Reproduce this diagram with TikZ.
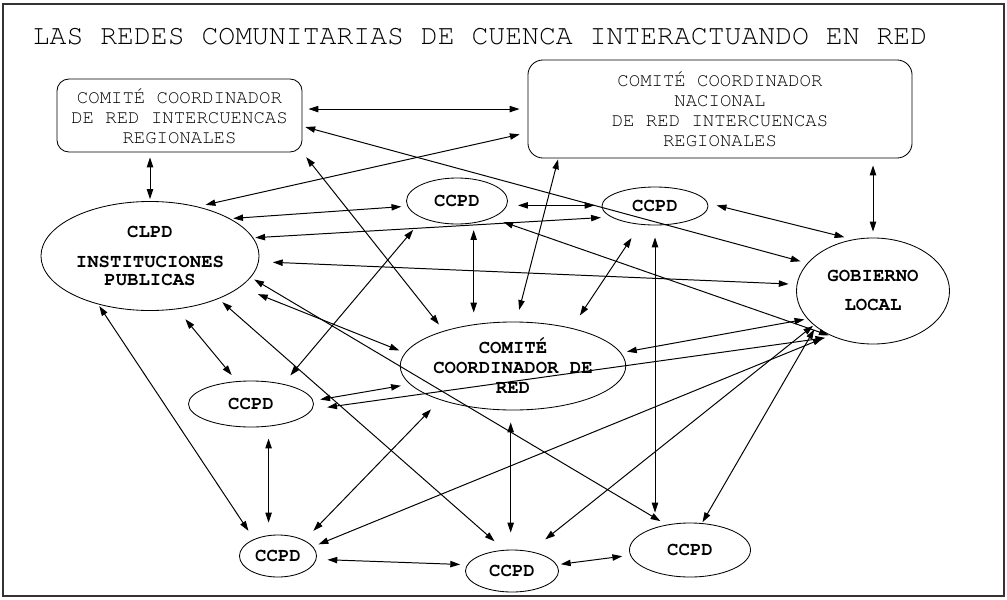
\documentclass[tikz,border=0pt]{standalone}
\usepackage[T1]{fontenc}
\usepackage{courier}
\usetikzlibrary{arrows.meta,shapes.geometric}

\begin{document}
\begin{tikzpicture}[
    x=0.025cm, y=-0.025cm,
    box/.style={draw, line width=0.6pt, rectangle, rounded corners=0.3cm, inner sep=0pt, align=center,
        font=\ttfamily\fontsize{13.5pt}{14.2pt}\selectfont},
    oval/.style={draw, line width=0.6pt, ellipse, inner sep=0pt, align=center,
        font=\ttfamily\bfseries\fontsize{13.5pt}{14.2pt}\selectfont},
    link/.style={{Triangle[length=7pt,width=4.5pt]}-{Triangle[length=7pt,width=4.5pt]},
        line width=0.7pt, shorten <=2pt, shorten >=2pt},
    gap/.style 2 args={shorten <=#1*0.025cm, shorten >=#2*0.025cm}
]

\useasboundingbox (0,0) rectangle (1007,599);
\draw[line width=1.4pt, black!80] (3,4) rectangle (1004,596);

\node[font=\ttfamily\fontsize{20pt}{24pt}\selectfont] (title) at (480,36)
    {LAS REDES COMUNITARIAS DE CUENCA INTERACTUANDO EN RED};

% boxes
\node[box, minimum width=6.125cm, minimum height=1.825cm] (boxRed) at (179.5,115.5)
    {COMIT\'E COORDINADOR\\DE RED INTERCUENCAS\\REGIONALES};
\node[box, rounded corners=0.375cm, minimum width=9.6cm, minimum height=2.45cm] (boxNac) at (720,109)
    {COMIT\'E COORDINADOR\\NACIONAL\\DE RED INTERCUENCAS\\REGIONALES};

% ovals
\node[oval, minimum width=5.45cm, minimum height=2.725cm] (clpd) at (150,256)
    {CLPD\\[7.1pt]INSTITUCIONES\\[-1.4pt]PUBLICAS};
\node[oval, minimum width=2.525cm, minimum height=1.15cm] (ccpdA) at (457,201) {CCPD};
\node[oval, minimum width=2.65cm, minimum height=0.95cm] (ccpdB) at (655,206) {CCPD};
\node[oval, minimum width=5.5cm, minimum height=2.2cm] (comite) at (513,366)
    {COMIT\'E\\COORDINADOR DE\\RED};
\node[oval, minimum width=3.825cm, minimum height=2.65cm] (gob) at (873,291)
    {GOBIERNO\\[6.4pt]LOCAL};
\node[oval, minimum width=3.125cm, minimum height=1.15cm] (ccpdC) at (251,404) {CCPD};
\node[oval, minimum width=1.925cm, minimum height=1.05cm] (ccpdD) at (278,556) {CCPD};
\node[oval, minimum width=2.325cm, minimum height=1.05cm] (ccpdE) at (512,571) {CCPD};
\node[oval, minimum width=3.025cm, minimum height=1.35cm] (ccpdF) at (690,550) {CCPD};

% from the boxes
\draw[link, gap={6}{8}] (boxRed.3) -- (boxRed.3 -| boxNac.west);
\draw[link, gap={3}{7}] (boxRed.-5) -- (gob.157);
\draw[link, gap={5}{2}] (boxRed.south -| clpd.north) -- (clpd.north);
\draw[link, gap={8}{8}] (boxNac.187) -- (clpd.46);
\draw[link, gap={6}{8}] (boxRed.south east) -- (comite.153);
\draw[link, gap={1}{12}] (boxNac.197) -- (comite.86);
\draw[link, gap={7}{6}] (boxNac.south -| gob.north) -- (gob.north);

% from CLPD
\draw[link, gap={3}{6}] (clpd.25) -- (ccpdA.186);
\draw[link, gap={2}{10}] (clpd.10) -- (ccpdB.194);
\draw[link, gap={14}{8}] (clpd.-3) -- (gob.175);
\draw[link, gap={19}{6}] (clpd.-19) -- (comite.173);
\draw[link, gap={4}{7}] (clpd.-12) -- (ccpdF.133);
\draw[link, gap={5}{13}] (clpd.-32) -- (ccpdE.110);
\draw[link, gap={13}{8}] (clpd.-63) -- (ccpdC.122);
\draw[link, gap={2}{10}] (clpd.223) -- (ccpdD.145);

% upper CCPD
\draw[link, gap={11}{7}] (ccpdA.-5) -- (ccpdA.-5 -| ccpdB.west);
\draw[link, gap={7}{9}] (ccpdA.-53) -- (ccpdA.-53 |- comite.north);
\draw[link, gap={12}{8}] (ccpdA.-26) -- (gob.232);
\draw[link, gap={15}{11}] (ccpdA.207) -- (ccpdC.32);
\draw[link, gap={16}{15}] (ccpdB.232) -- (comite.33);
\draw[link, gap={12}{10}] (ccpdB.south) -- (ccpdB.south |- ccpdF.north);
\draw[link, gap={9}{9}] (ccpdB.3) -- (gob.111);

% centre and lower CCPD
\draw[link, gap={6}{3}] (comite.7) -- (gob.203);
\draw[link, gap={12}{17}] (comite.-93) -- (comite.-93 |- ccpdE.north);
\draw[link, gap={7}{9}] (ccpdC.3) -- (comite.190);
\draw[link, gap={15}{8}] (ccpdC.-5) -- (gob.229);
\draw[link, gap={12}{12}] (ccpdC.-52) -- (ccpdC.-52 |- ccpdD.north);
\draw[link, gap={13}{13}] (ccpdD.31) -- (comite.205);
\draw[link, gap={6}{8}] (ccpdD.15) -- (gob.226);
\draw[link, gap={11}{7}] (ccpdD.-5) -- (ccpdE.172);
\draw[link, gap={4}{8}] (ccpdE.8) -- (ccpdF.185);
\draw[link, gap={19}{1}] (ccpdE.47) -- (gob.210);
\draw[link, gap={1}{3}] (ccpdF.66) -- (gob.212);

\end{tikzpicture}
\end{document}
